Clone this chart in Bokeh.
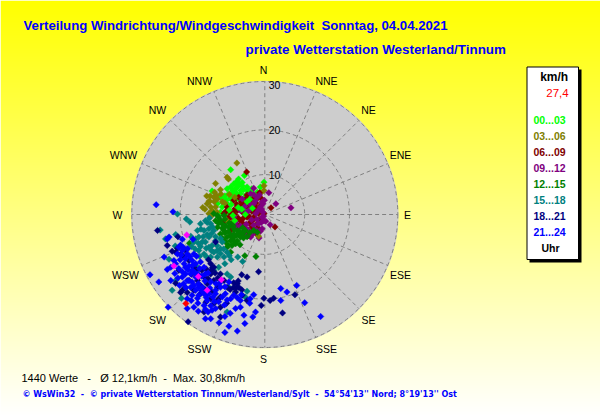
import numpy as np
from bokeh.plotting import figure
from bokeh.models import Range1d
from bokeh.core.properties import value
from bokeh.embed import file_html
from bokeh.resources import INLINE

# Wind vector readings (east, north component, on the chart's radial scale, km/h)
h00_03 = [(-7.7,10.1),(-5.9,8.0),(-4.6,8.8),(-0.2,7.3),(-7.0,6.9),(-7.7,6.2),(-8.5,5.8),(-6.2,6.2),(-5.1,6.5),(-4.0,6.2),
          (-2.9,5.8),(-1.7,5.0),(-10.0,3.9),(-9.2,3.2),(-11.9,5.3),(-8.1,4.7),(-6.6,5.0),(-5.5,4.7),(-10.7,2.4),(-9.6,1.7),
          (-8.5,2.4),(-7.4,3.2),(-5.5,3.2),(-3.6,2.4),(-2.5,3.9),(-6.6,0.9),(-4.7,0.9),(-8.5,0.2),(-10.0,0.5),(-6.6,5.8),
          (-5.8,6.8),(-4.8,5.6),(-7.2,5.4),(-3.2,5.1),(-6.0,4.2),(-4.2,4.4),(-7.8,3.8),(-9.0,4.2),(-3.0,3.6),(-1.0,6.2),
          (-8.7,3.2),(-9.4,2.6),(-6.9,4.4),(-4.5,3.8),(-3.7,4.4),(-7.5,4.7),(-5.4,5.4),(-3.8,5.3),(-6.3,3.6),(-5.1,7.2),(-6.4,7.4)]
h03_06 = [(-6.3,11.6),(-8.5,8.4),(-8.2,8.0),(-11.1,7.0),(-10.0,5.6),(-13.1,4.2),(-11.3,5.0),(-11.5,3.9),(-10.7,3.5),(-13.0,2.4),
          (-14.0,1.6),(-12.2,1.7),(-12.6,0.2),(-11.9,0.9),(-11.1,1.7),(-0.2,6.5),(-0.2,5.4),(-1.0,4.8),(-9.9,4.6),(-12.4,3.0),
          (-12.6,3.0),(-11.4,2.9),(-10.9,4.3),(-12.3,4.2),(-13.5,1.2),(-9.6,2.9),(-10.8,0.5),(-12.2,-0.5),(-8.0,4.5)]
h06_09 = [(-4.1,9.6),(1.4,1.5),(2.3,-2.8),(-1.5,3.9),(-1.2,4.9),(-4.0,4.4),(-5.9,3.9),(-7.0,3.2),(-8.5,1.7),(-9.2,0.2),
          (-10.0,-1.4),(-7.7,-0.6),(-6.2,0.9),(-4.7,2.4),(-3.2,3.2),(-2.1,1.7),(-1.0,0.9),(-0.2,0.2),(-5.5,-1.4),(-4.0,-0.6),
          (-2.5,-0.6),(-6.6,-2.1),(-4.7,-2.9),(-2.9,-2.9),(-1.7,-2.1),(-4.0,-4.4),(-7.7,-3.6),(-3.0,0.8),(-5.0,0.5),(-6.4,2.3),
          (-3.8,1.6),(-5.3,2.8),(-2.0,2.6),(-1.0,2.0),(-7.0,1.0),(-8.0,-0.5),(-3.5,-2.0),(-5.0,-2.0),(-1.2,-1.2),(-2.4,0.5),
          (-6.0,-0.8),(-4.2,3.6),(-0.8,3.6),(-3.0,-3.8),(-2.0,-4.2),(-3.6,-0.4),(-2.8,-1.4),(-4.9,-0.9),(-6.2,1.8),(-2.0,1.2),
          (-3.4,2.6),(-5.8,-2.6),(-4.5,-3.8),(-3.6,-4.8),(-6.8,0.0),(-7.5,0.2),(-8.8,0.7),(-1.4,0.2),(-1.6,-3.0),(-7.0,-1.5),
          (-5.5,1.9),(-2.6,3.6),(-9.0,-1.5)]
h09_12 = [(5.9,1.5),(2.5,2.4),(0.9,4.9),(-2.5,5.9),(1.2,-2.3),(-0.1,3.2),(-0.6,2.8),(-1.3,-5.3),(-5.7,-4.4),(-1.7,3.9),
          (-1.0,1.7),(-0.6,-0.6),(-0.2,-1.4),(-1.4,-2.1),(-2.1,-3.6),(-3.2,-5.1),(-4.4,-4.7),(-6.2,-2.9),(-7.0,-0.6),(-5.5,0.9),
          (-3.6,0.9),(-2.5,2.4),(-3.2,4.7),(-5.1,3.5),(-2.0,0.2),(-3.0,-1.2),(-1.4,1.0),(-4.5,1.8),(-3.2,2.2),(-1.8,-1.1),
          (-4.2,-2.2),(-2.5,-2.4),(-0.4,2.4),(-0.7,1.2),(-5.5,-2.6),(-0.3,-0.4),(-0.8,-1.8),(-1.8,-3.6),(-0.6,-3.2),(-1.0,-3.8),
          (-2.8,-4.5),(-3.8,-3.4),(-5.0,-4.1),(-2.1,3.1),(-0.4,0.5),(0.2,-1.5),(-6.6,-1.8),(-4.3,0.4),(-1.2,4.4),(-2.5,4.5)]
h12_15 = [(-2.0,-9.5),(-4.5,-9.3),(-5.6,-6.8),(-6.6,-6.6),(-7.7,-5.9),(-8.5,-5.1),(-10.0,-4.4),(-10.7,-2.9),(-9.2,-3.6),(-7.0,-4.4),
          (-5.5,-5.1),(-4.4,-3.6),(-6.2,-3.6),(-8.1,-2.9),(-9.6,-2.1),(-11.1,-1.4),(-7.7,-8.5),(-8.5,-7.4),(-2.5,-3.6),(-1.7,-4.0),
          (-11.5,0.2),(-10.4,-0.6),(-17.0,-6.5),(-9.0,-1.0),(-8.0,-1.9),(-7.1,-2.6),(-6.0,-4.4),(-5.0,-3.0),(-9.0,-4.2),(-7.5,-5.1),
          (-8.8,-2.6),(-6.9,-3.4),(-5.0,-4.4),(-10.1,-1.3),(-10.4,-2.0),(-9.6,-3.1),(-8.2,-3.9),(-7.7,-4.7),(-6.4,-4.7),(-5.7,-3.8),
          (-4.8,-5.3),(-4.0,-5.0),(-8.9,-6.1),(-7.0,-6.0),(-6.2,-6.0),(-9.5,-5.4),(-8.3,-6.8),(-7.4,-7.0),(-6.9,-5.1),(-3.4,-4.1),
          (-7.6,-2.2),(-9.2,-0.2),(-10.7,-0.2)]
h15_18 = [(-19.7,0.1),(-17.7,-1.0),(-16.9,-1.7),(-23.6,-3.5),(-20.1,-4.5),(-22.4,-5.5),(-20.2,-7.1),(-16.7,-4.9),(-15.2,-3.6),(-14.5,-2.1),
          (-13.4,-1.4),(-12.2,-2.1),(-11.5,-3.6),(-13.7,-3.6),(-14.9,-5.1),(-16.0,-6.2),(-14.1,-6.2),(-12.6,-5.1),(-11.1,-5.9),(-12.6,-7.4),
          (-11.5,-8.5),(-10.0,-7.7),(-9.2,-9.6),(-10.7,-9.6),(-8.5,-8.5),(-14.9,-8.1),(-13.7,-8.9),(-12.2,-9.6),(-5.0,-10.6),(-6.1,-9.6),
          (-21.6,-10.1),(-20.1,-14.9),(-20.9,-17.1),(-18.8,-18.9),(-8.5,-22.0),(-4.0,-17.3),(-10.4,-11.9),(-7.7,-14.1),(-8.1,-16.4),(-11.5,-12.6),
          (-8.5,-13.4),(-15.2,-11.9),(-4.4,-18.6),(-15.6,-5.5),(-13.4,-6.2),(-11.9,-7.0),(-9.6,-6.2),(-12.6,-3.2),(-12.0,-4.3),(-13.0,-4.5),
          (-13.9,-5.0),(-15.0,-6.5),(-14.5,-7.2),(-13.2,-7.6),(-12.0,-8.2),(-10.8,-7.0),(-10.8,-8.2),(-10.0,-8.8),(-13.0,-1.8),(-12.5,-0.8),
          (-11.8,-2.8),(-14.4,-3.3),(-16.5,-7.2),(-15.7,-7.8),(-11.1,-5.0),(-10.0,-5.4),(-9.3,-7.8),(-13.1,-9.6),(-14.7,-9.4),(-9.0,-11.1),
          (-8.0,-9.3),(-7.6,-10.2)]
h18_21 = [(-24.2,-3.6),(-20.9,-8.3),(-19.6,-5.0),(-22.0,-7.0),(-17.3,-24.2),(4.0,-22.2),(6.8,-18.1),(2.0,-18.9),(1.2,-19.4),(-0.2,-18.9),
          (-0.8,-20.5),(-1.4,-12.9),(-4.0,-14.1),(-5.2,-13.6),(-6.2,-15.6),(-7.0,-16.4),(-5.9,-16.4),(-6.6,-17.5),(-5.1,-18.2),(-4.0,-19.4),
          (-10.0,-23.1),(-13.7,-22.0),(-10.0,-20.9),(-11.5,-20.1),(-13.0,-17.9),(-14.5,-17.9),(-16.0,-17.1),(-18.6,-17.1),(-20.1,-15.5),(-19.4,-12.6),
          (-17.1,-10.4),(-11.5,-11.9),(-12.2,-13.4),(-13.7,-14.1),(-15.2,-14.9),(-13.0,-15.6),(-11.5,-14.9),(-10.7,-16.4),(-10.0,-18.6),(-12.2,-19.0),
          (-14.5,-16.0),(-10.0,-13.4),(-9.2,-14.9),(-16.0,-11.9),(-18.2,-9.6),(-20.1,-8.5),(-11.1,-6.2),(-8.5,-16.4),(-12.2,-11.1),(-17.1,-14.9),
          (-15.4,-12.6),(-14.2,-12.6),(-13.2,-12.3),(-12.0,-12.5),(-14.8,-13.8),(-12.8,-14.5),(-10.6,-14.3),(-13.6,-16.8),(-12.0,-17.4),(-16.5,-13.5),
          (-18.0,-16.4),(-19.0,-17.6),(-17.5,-17.6),(-18.9,-8.9),(-17.9,-8.1),(-19.7,-7.6),(-6.0,-15.0),(-7.0,-15.4),(-7.8,-16.9),(-6.5,-16.6),
          (-5.2,-17.0),(-11.2,-13.2),(-12.7,-10.2),(-11.8,-12.0),(-13.3,-19.8),(-10.7,-19.3),(-8.6,-20.0)]
h21_24 = [(-24.5,2.2),(-20.7,0.6),(-25.9,-13.6),(-23.9,-15.2),(-21.8,-20.9),(12.6,-23.0),(9.0,-19.9),(7.2,-16.0),(5.0,-17.5),(3.6,-16.7),
          (3.6,-19.4),(-2.1,-22.0),(-2.7,-23.1),(-4.5,-24.6),(-6.2,-26.3),(-8.1,-25.2),(-9.0,-26.6),(-12.2,-23.5),(-13.4,-23.5),(-10.3,-24.4),
          (-9.0,-23.0),(-4.7,-22.7),(-6.6,-21.2),(-5.5,-20.9),(-2.5,-18.1),(-22.0,-5.5),(-21.6,-5.1),(-18.6,-5.6),(-16.2,-5.6),(-20.5,-10.4),
          (-21.2,-11.9),(-22.0,-12.4),(-21.2,-14.9),(-22.7,-9.6),(-19.7,-8.9),(-18.6,-8.1),(-18.2,-11.1),(-19.4,-12.2),(-17.9,-13.4),(-16.4,-12.6),
          (-17.1,-14.9),(-15.6,-17.1),(-16.7,-16.4),(-14.9,-18.2),(-16.0,-20.9),(-13.7,-20.5),(-17.5,-19.0),(-17.5,-21.2),(-13.0,-19.4),(-11.1,-21.2),
          (-10.4,-19.7),(-9.6,-18.6),(-8.9,-17.9),(-7.7,-19.0),(-14.1,-16.4),(-12.6,-17.9),(-11.1,-17.1),(-15.2,-13.4),(-13.7,-11.9),(-16.4,-10.4),
          (-14.5,-10.7),(-13.4,-13.4),(-17.5,-8.9),(-19.4,-7.4),(-20.1,-11.1),(-18.6,-14.1),(-12.2,-15.2),(-16.7,-13.4),(-17.9,-11.9),(-8.1,-15.2),
          (-10.0,-16.4),(-15.6,-14.1),(-16.4,-18.2),(-13.7,-17.9),(-14.9,-16.4),(-17.5,-14.9),(-17.9,-10.0),(-16.0,-8.9),(-15.6,-11.1),(-11.1,-17.9),
          (-5.5,-19.4),(-11.9,-21.6),(-19.0,-6.9),(-18.3,-7.5),(-17.4,-7.7),(-18.9,-9.2),(-16.9,-9.5),(-15.4,-9.4),(-19.1,-10.2),(-17.1,-11.6),
          (-16.2,-11.4),(-14.7,-12.2),(-18.6,-12.9),(-17.3,-12.5),(-15.8,-13.1),(-14.2,-13.9),(-12.8,-13.2),(-18.3,-15.6),(-16.4,-15.2),(-15.0,-15.6),
          (-13.5,-15.0),(-17.8,-16.5),(-16.0,-16.0),(-14.3,-17.2),(-12.4,-16.6),(-15.2,-18.9),(-13.2,-18.7),(-11.7,-18.6),(-16.6,-19.4),(-15.1,-20.0),
          (-12.2,-20.6),(-11.4,-19.6),(-19.2,-16.0),(-20.3,-13.3),(-19.6,-14.3),(-10.2,-15.5),(-9.0,-16.3),(-11.0,-15.6),(-7.0,-18.2),(-6.2,-18.8),
          (-8.5,-19.3),(-9.1,-20.4),(-12.8,-22.0),(-13.4,-21.4),(-15.0,-21.8),(-3.4,-20.0),(-7.8,-22.3),(-5.3,-18.1),(-3.3,-19.0)]
h00_03_late = [(-6.0,1.6),(-4.4,0.0),(-7.2,-0.2),(-3.4,3.4),(-5.2,1.2),(-8.0,1.0),(-2.8,1.4),(-6.8,-1.4),(-4.0,2.9),(-7.6,2.2)]
h03_06_late = [(-7.7,-2.1),(-8.5,-1.4),(-1.4,-4.9),(-9.0,2.6),(-6.8,3.9)]
gusts = [(-17.6,-4.6),(-20.5,-11.6),(-15.0,-14.0),(-13.0,-17.1),(-9.8,-14.7)]
max_gust = [(-17.8,-20.1)]

series = [(h00_03,"#00ff00"),(h03_06,"#808000"),(h06_09,"#800000"),(h09_12,"#800080"),(h00_03_late,"#00ff00"),(h03_06_late,"#808000"),
          (h12_15,"#008000"),(h15_18,"#008080"),(h18_21,"#000080"),(h21_24,"#0000ff"),(gusts,"#ff00ff"),(max_gust,"#ff0000")]

compass = ["N","NNE","NE","ENE","E","ESE","SE","SSE","S","SSW","SW","WSW","W","WNW","NW","NNW"]
ring_pos = [9.0, 19.1, 30.0]
ring_labels = ["10","20","30"]
legend_hours = ["00...03","03...06","06...09","09...12","12...15","15...18","18...21","21...24"]
legend_colors = ["#00ff00","#808000","#800000","#800080","#008000","#008080","#000080","#0000ff"]

W, H = 600, 415
CX, CY = 264.3, 214.0
S = 133 / 30

def dx(px): return (px - CX) / S
def dy(py): return (CY - py) / S

p = figure(width=W, height=H, output_backend="svg", toolbar_location=None,
           x_range=Range1d(dx(0), dx(W)), y_range=Range1d(dy(H), dy(0)),
           x_axis_location=None, y_axis_location=None, min_border=0,
           outline_line_color=None, border_fill_color=None)
p.grid.visible = False

# page gradient
rows = np.arange(H, 0, -1)
img = np.zeros((H, 1), dtype=np.uint32)
view = img.view(dtype=np.uint8).reshape((H, 1, 4))
view[:, 0, 0] = 255
view[:, 0, 1] = 255
view[:, 0, 2] = np.clip(rows / 415 * 255, 0, 255).astype(np.uint8)
view[:, 0, 3] = 255
p.image_rgba(image=[img], x=dx(0), y=dy(H), dw=W / S, dh=H / S)

p.circle(x=[0], y=[0], radius=30.2, fill_color="#cdcdcd", line_color=None)
ang = np.arange(16) * np.pi / 8
p.segment(x0=1.2*np.sin(ang), y0=1.2*np.cos(ang), x1=30*np.sin(ang), y1=30*np.cos(ang),
          line_color="#808080", line_dash="4 3", line_width=1)
p.circle(x=[0,0,0], y=[0,0,0], radius=ring_pos, fill_color=None, line_color="#808080", line_dash="4 3", line_width=1)
p.rect(x=[0], y=[0], width=1.0, height=1.0, fill_color="#999999", line_color=None)

for pts, col in series:
    e = [a for a, b in pts]
    n = [b for a, b in pts]
    p.scatter(e, n, marker="square", size=4.6, angle=np.pi/4, fill_color=col, line_color=col, line_width=0.4)

def put(px, py, txt, size, color="#000000", bold=False, align="left", font="Liberation Sans"):
    p.text(x=[dx(px)], y=[dy(py)], text=[txt.replace(" ", "\u00a0")], text_font=value(font), text_font_size=f"{size}px",
           text_color=color, text_font_style="bold" if bold else "normal",
           text_align=align, text_baseline="middle")

label_pos = {"N":(263,69),"NNE":(326,80),"NE":(368,109),"ENE":(400,154),"E":(407,214),"ESE":(400,274),"SE":(368,319),
             "SSE":(326,348),"S":(263,358),"SSW":(199,348),"SW":(157,319),"WSW":(125,274),"W":(117,214),"WNW":(123,154),
             "NW":(157,109),"NNW":(199,80)}
for c in compass:
    put(*label_pos[c], c, 10.5, align="center")
for lab, py in zip(ring_labels, [174, 129, 84]):
    put(274, py, lab, 10.5, align="center")

put(23, 25, "Verteilung Windrichtung/Windgeschwindigkeit  Sonntag, 04.04.2021", 13.2, "#0000ff", True)
put(245, 49, "private Wetterstation Westerland/Tinnum", 13.4, "#0000ff", True)
put(21, 377, "1440 Werte   -   Ø 12,1km/h  -  Max. 30,8km/h", 11)
put(22, 394, "© WsWin32  -  © private Wetterstation Tinnum/Westerland/Sylt  -  54°54'13'' Nord; 8°19'13'' Ost", 8, "#0000ff", True, font="DejaVu Sans")

# legend box
p.quad(left=[dx(529)], right=[dx(581)], top=[dy(69)], bottom=[dy(262)], fill_color="#000000", line_color=None)
p.quad(left=[dx(526.5)], right=[dx(578)], top=[dy(66.5)], bottom=[dy(259)], fill_color="#ffffff", line_color="#000000", line_width=1)
put(553.7, 76, "km/h", 12, bold=True, align="center")
put(557, 92, "27,4", 11.5, "#ff0000", align="center")
for i, (lab, col) in enumerate(zip(legend_hours, legend_colors)):
    put(549, 119 + 16 * i, lab, 10.5, col, True, align="center")
put(550, 247, "Uhr", 10.5, bold=True, align="center")

open("out.html", "w").write(file_html(p, INLINE))
